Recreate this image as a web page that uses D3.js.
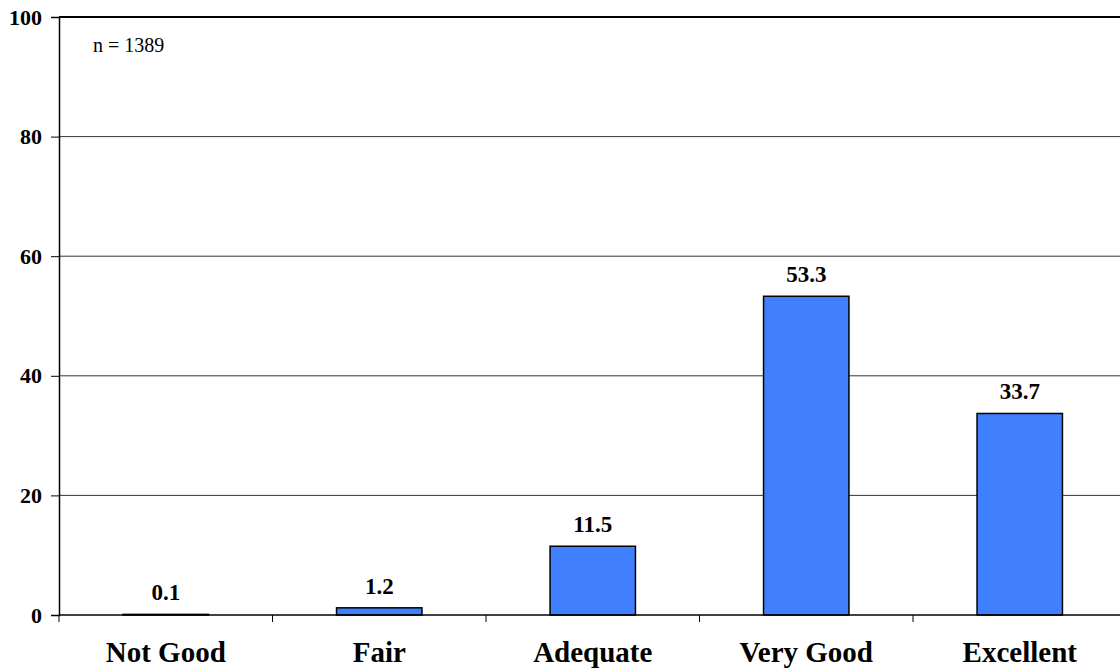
<!DOCTYPE html>
<html><head><meta charset="utf-8">
<script src="https://cdn.jsdelivr.net/npm/d3@7"></script>
<style>body{margin:0;background:#fff}svg{display:block}</style>
</head><body><svg id="c" width="1120" height="669"></svg>
<script>
const categories = ["Not Good","Fair","Adequate","Very Good","Excellent"];
const values = [0.1,1.2,11.5,53.3,33.7];
const yTicks = [0,20,40,60,80,100];
const note = "n = 1389";

const svg = d3.select("#c");
const m = {l:59, t:17, b:615, r:1126.5};
const x = d3.scaleBand().domain(categories).range([m.l,m.r]).paddingInner(0.6).paddingOuter(0.3);
const xb = d3.scaleBand().domain(categories).range([m.l,m.r]);
const y = d3.scaleLinear().domain([0,100]).range([m.b,m.t]);
const font = "Liberation Serif, Times New Roman, serif";

// gridlines
svg.append("g").selectAll("line").data(yTicks.filter(d=>d>0&&d<100)).join("line")
  .attr("x1",m.l).attr("x2",1120).attr("y1",d=>y(d)).attr("y2",d=>y(d))
  .attr("stroke","#000").attr("stroke-width",0.8);
svg.append("line").attr("x1",m.l).attr("x2",1120).attr("y1",y(100)).attr("y2",y(100))
  .attr("stroke","#000").attr("stroke-width",2);

// bars
svg.append("g").selectAll("rect").data(values).join("rect")
  .attr("x",(d,i)=>x(categories[i])).attr("width",x.bandwidth())
  .attr("y",d=>y(d)).attr("height",d=>y(0)-y(d))
  .attr("fill","#4080FF").attr("stroke","#000").attr("stroke-width",1.5);

// value labels
svg.append("g").selectAll("text").data(values).join("text")
  .attr("x",(d,i)=>x(categories[i])+x.bandwidth()/2).attr("y",d=>y(d)-14)
  .attr("text-anchor","middle").attr("font-family",font).attr("font-weight","bold")
  .attr("font-size",23).text(d=>d.toFixed(1));

// y axis
const ya = svg.append("g").attr("transform",`translate(${m.l},0)`)
  .call(d3.axisLeft(y).tickValues(yTicks).tickSize(8).tickPadding(9));
ya.attr("font-family",font).attr("font-size",22);
ya.select(".domain").attr("stroke","#000").attr("stroke-width",1.5);
ya.selectAll("text").attr("font-weight","bold").attr("fill","#000");

// x axis
const xa = svg.append("g").attr("transform",`translate(0,${m.b})`)
  .call(d3.axisBottom(xb).tickSize(0).tickPadding(26));
xa.attr("font-family",font).attr("font-size",29);
xa.select(".domain").remove();
xa.append("line").attr("x1",m.l).attr("x2",1120).attr("stroke","#000").attr("stroke-width",1.5);
xa.selectAll(".sep").data(categories).join("line").attr("class","sep")
  .attr("x1",d=>xb(d)).attr("x2",d=>xb(d)).attr("y1",0).attr("y2",7).attr("stroke","#000");
xa.selectAll("text").attr("font-weight","bold").attr("fill","#000");

svg.append("text").attr("x",93).attr("y",52).attr("font-family",font).attr("font-size",20).text(note);
</script></body></html>
